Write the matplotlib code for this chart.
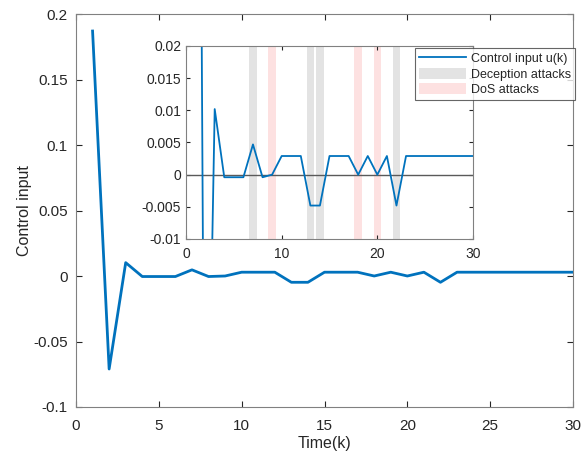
import matplotlib
matplotlib.use("Agg")
import matplotlib.pyplot as plt
import numpy as np

plt.rcParams['font.family'] = ['Liberation Sans', 'DejaVu Sans']

k = list(range(1, 31))
u = [0.187, -0.071, 0.0102, -0.0004, -0.0004, -0.0004, 0.0047, -0.0004, 0.0,
     0.0029, 0.0029, 0.0029, -0.0048, -0.0048, 0.0029, 0.0029, 0.0029, 0.0,
     0.0029, 0.0, 0.0029, -0.0048, 0.0029, 0.0029, 0.0029, 0.0029, 0.0029,
     0.0029, 0.0029, 0.0029]
deception_k = [7, 13, 14, 22]
dos_k = [9, 18, 20]
attack_halfwidth = 0.4

blue = '#0072BD'
axcol = '#262626'

fig = plt.figure(figsize=(5.81, 4.59), dpi=100)
ax = fig.add_axes([76/581, 1-407/459, (573-76)/581, (407-14)/459])
ax.plot(k, u, color=blue, lw=2)
ax.set_xlim(0, 30)
ax.set_ylim(-0.1, 0.2)
ax.set_xticks([0, 5, 10, 15, 20, 25, 30])
ax.set_yticks([-0.1, -0.05, 0, 0.05, 0.1, 0.15, 0.2])
ax.set_yticklabels(['-0.1', '-0.05', '0', '0.05', '0.1', '0.15', '0.2'])
ax.set_xlabel('Time(k)', fontsize=11.5, color=axcol, labelpad=2)
ax.set_ylabel('Control input', fontsize=11.5, color=axcol, labelpad=1)
ax.tick_params(direction='in', top=True, right=True, labelsize=11, colors=axcol, length=4)
ax.tick_params(axis='x', pad=9)
ax.tick_params(axis='y', pad=6)
for s in ax.spines.values():
    s.set_color('#808080')

ins = fig.add_axes([186/581, 1-239/459, (473-186)/581, (239-46)/459])
for i, c in enumerate(deception_k):
    ins.axvspan(c-attack_halfwidth, c+attack_halfwidth, color='#E3E3E3', lw=0,
                label='Deception attacks' if i == 0 else None)
for i, c in enumerate(dos_k):
    ins.axvspan(c-attack_halfwidth, c+attack_halfwidth, color='#FDE1E1', lw=0,
                label='DoS attacks' if i == 0 else None)
ins.axhline(0, color='#5a5a5a', lw=1)
ln, = ins.plot(k, u, color=blue, lw=1.3, label='Control input u(k)')
ins.set_xlim(0, 30)
ins.set_ylim(-0.01, 0.02)
ins.set_xticks([0, 10, 20, 30])
ins.set_yticks([-0.01, -0.005, 0, 0.005, 0.01, 0.015, 0.02])
ins.set_yticklabels(['-0.01', '-0.005', '0', '0.005', '0.01', '0.015', '0.02'])
ins.tick_params(direction='in', top=True, right=True, labelsize=10, colors=axcol, length=3)
ins.tick_params(axis='x', pad=6)
for s in ins.spines.values():
    s.set_color('#808080')
handles, labels = ins.get_legend_handles_labels()
order = [labels.index('Control input u(k)'), labels.index('Deception attacks'), labels.index('DoS attacks')]
leg = fig.legend([handles[i] for i in order], [labels[i] for i in order],
                 loc='upper left', bbox_to_anchor=(415/581, 1-48/459),
                 fontsize=9, frameon=True, fancybox=False, borderpad=0.35,
                 handlelength=3.7, handleheight=1.0, handletextpad=0.4,
                 labelspacing=0.2, borderaxespad=0)
leg.get_frame().set_edgecolor('#404040')
leg.get_frame().set_linewidth(0.8)
for t in leg.get_texts():
    t.set_color(axcol)

fig.savefig('out.png', dpi=100)
